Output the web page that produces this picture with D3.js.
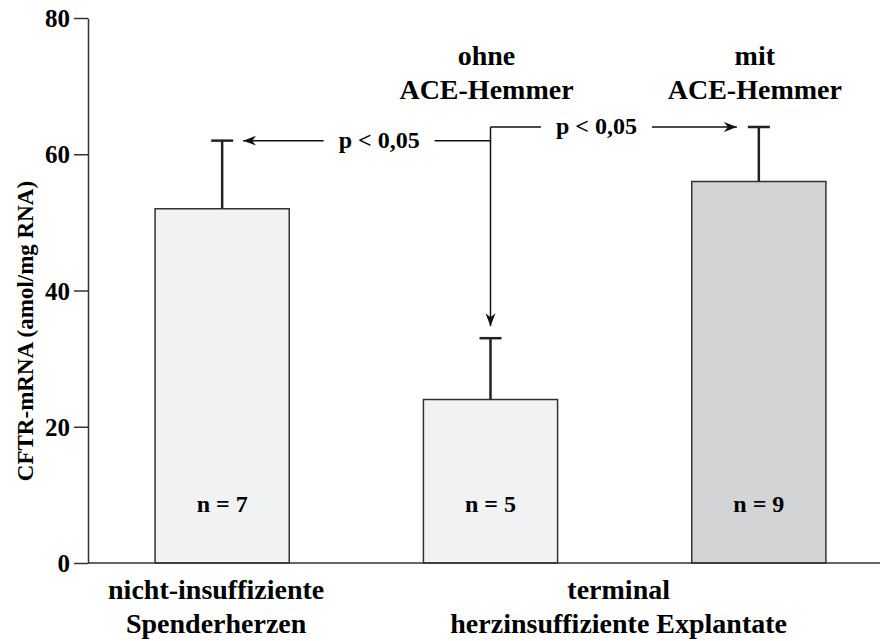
<!DOCTYPE html>
<html>
<head>
<meta charset="utf-8">
<script src="https://cdn.jsdelivr.net/npm/d3@7"></script>
<style>
  body { margin: 0; background: #fff; }
  svg text { font-family: "Liberation Serif", "Times New Roman", serif; font-weight: bold; fill: #000; }
</style>
</head>
<body>
<svg id="chart" width="882" height="641"></svg>
<script>
// data
var groups = ["spender", "ohneACE", "mitACE"];
var means = [52, 24, 56];
var errors = [10, 9, 8];
var nLabels = ["n = 7", "n = 5", "n = 9"];
var yTicks = [0, 20, 40, 60, 80];
var topLabels = [[], ["ohne", "ACE-Hemmer"], ["mit", "ACE-Hemmer"]];
var bottomLabels = [
    {first: 0, last: 0, lines: ["nicht-insuffiziente", "Spenderherzen"]},
    {first: 1, last: 2, lines: ["terminal", "herzinsuffiziente Explantate"]}
];
var yTitle = "CFTR-mRNA (amol/mg RNA)";
var pText = "p < 0,05";

var svg = d3.select("#chart");
var width = 882, height = 641;
var margin = {top: 18, right: 2, bottom: 78, left: 88};

var y = d3.scaleLinear().domain([0, 80]).range([height - margin.bottom, margin.top]);
var x = d3.scaleBand().domain(groups)
    .range([margin.left, margin.left + 805])
    .paddingInner(0.5).paddingOuter(0.25);

var fill = {spender: "#f1f2f4", ohneACE: "#f1f2f4", mitACE: "#d3d4d6"};
var cx = function (g) { return x(g) + x.bandwidth() / 2; };

// arrow marker
svg.append("defs").append("marker")
    .attr("id", "arr")
    .attr("viewBox", "-13 -6 14 12")
    .attr("refX", 0).attr("refY", 0)
    .attr("markerWidth", 14).attr("markerHeight", 12)
    .attr("markerUnits", "userSpaceOnUse")
    .attr("orient", "auto")
    .append("path")
    .attr("d", "M0,0 L-13,-5 L-9,0 L-13,5 Z")
    .attr("fill", "#111");

// bars
svg.selectAll(".bar")
    .data(groups)
    .enter().append("rect")
    .attr("class", "bar")
    .attr("x", function (d) { return x(d); })
    .attr("y", function (d, i) { return y(means[i]); })
    .attr("width", x.bandwidth())
    .attr("height", function (d, i) { return y(0) - y(means[i]); })
    .attr("fill", function (d) { return fill[d]; })
    .attr("stroke", "#333")
    .attr("stroke-width", 1.5);

// error bars
var capW = 22;
var eb = svg.selectAll(".err").data(groups).enter().append("g").attr("class", "err")
    .attr("stroke", "#222").attr("stroke-width", 2.5);
eb.append("line")
    .attr("x1", cx).attr("x2", cx)
    .attr("y1", function (d, i) { return y(means[i]); })
    .attr("y2", function (d, i) { return y(means[i] + errors[i]); });
eb.append("line")
    .attr("x1", function (d) { return cx(d) - capW / 2; })
    .attr("x2", function (d) { return cx(d) + capW / 2; })
    .attr("y1", function (d, i) { return y(means[i] + errors[i]); })
    .attr("y2", function (d, i) { return y(means[i] + errors[i]); });

// n labels
svg.selectAll(".nlab").data(groups).enter().append("text")
    .attr("class", "nlab")
    .attr("x", cx)
    .attr("y", y(0) - 51)
    .attr("text-anchor", "middle")
    .style("font-size", "24px")
    .text(function (d, i) { return nLabels[i]; });

// y axis
var yAxis = svg.append("g")
    .attr("transform", "translate(" + margin.left + ",0)")
    .call(d3.axisLeft(y).tickValues(yTicks).tickSize(14).tickSizeOuter(0).tickPadding(4));
yAxis.select(".domain").attr("stroke", "#333").attr("stroke-width", 1.5);
yAxis.selectAll(".tick line").attr("stroke", "#333").attr("stroke-width", 1.5);
yAxis.selectAll(".tick text")
    .style("font-size", "25px")
    .attr("font-family", null)
    .attr("dy", "0.34em");

// baseline
svg.append("line")
    .attr("x1", margin.left).attr("x2", width - margin.right)
    .attr("y1", y(0)).attr("y2", y(0))
    .attr("stroke", "#333").attr("stroke-width", 1.5);

// y title
svg.append("text")
    .attr("transform", "translate(33," + 331 + ") rotate(-90)")
    .attr("text-anchor", "middle")
    .style("font-size", "23px")
    .text(yTitle);

// labels above the groups
topLabels.forEach(function (lines, i) {
    lines.forEach(function (t, j) {
        svg.append("text")
            .attr("x", cx(groups[i]) - 4)
            .attr("y", 65 + j * 34)
            .attr("text-anchor", "middle")
            .style("font-size", "28px")
            .text(t);
    });
});

// category labels below
bottomLabels.forEach(function (b) {
    var mx = (cx(groups[b.first]) + cx(groups[b.last])) / 2 - 6;
    b.lines.forEach(function (t, j) {
        svg.append("text")
            .attr("x", mx)
            .attr("y", 599 + j * 34)
            .attr("text-anchor", "middle")
            .style("font-size", "28px")
            .text(t);
    });
});

// significance brackets
var ann = svg.append("g").attr("stroke", "#111").attr("stroke-width", 1.5).attr("fill", "none");
var c0 = cx(groups[0]), c1 = cx(groups[1]), c2 = cx(groups[2]);
var yLeft = y(means[0] + errors[0]);
var yRight = y(means[2] + errors[2]);
var yMid = y(means[1] + errors[1]);

// vertical from the upper bracket down onto bar 2
ann.append("line")
    .attr("x1", c1).attr("x2", c1)
    .attr("y1", yRight).attr("y2", yMid - 12)
    .attr("marker-end", "url(#arr)");

function pBracket(xFrom, xTo, yy, frac) {
    var tx = xFrom + (xTo - xFrom) * frac;
    var t = svg.append("text")
        .attr("x", tx).attr("y", yy + 7)
        .attr("text-anchor", "middle")
        .style("font-size", "24px")
        .text(pText);
    var half = t.node().getComputedTextLength() / 2 + 15;
    var dir = xTo > xFrom ? 1 : -1;
    ann.append("line")
        .attr("x1", xFrom).attr("x2", tx - dir * half)
        .attr("y1", yy).attr("y2", yy);
    ann.append("line")
        .attr("x1", tx + dir * half).attr("x2", xTo)
        .attr("y1", yy).attr("y2", yy)
        .attr("marker-end", "url(#arr)");
}
pBracket(c1, c0 + capW / 2 + 10, yLeft, 0.45);
pBracket(c1, c2 - capW / 2 - 11, yRight, 0.43);
</script>
</body>
</html>
